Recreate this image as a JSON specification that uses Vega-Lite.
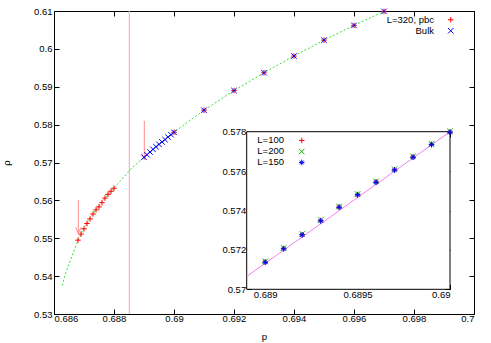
{
  "$schema": "https://vega.github.io/schema/vega-lite/v6.json",
  "width": 420,
  "height": 303,
  "autosize": {"type": "none"},
  "padding": {"left": 54, "top": 11, "right": 17, "bottom": 29},
  "config": {
    "view": {"stroke": "#000", "strokeWidth": 1},
    "axis": {
      "grid": false, "domain": false,
      "labelFont": "Liberation Sans", "labelFontSize": 9.5, "labelColor": "#000",
      "tickColor": "#000", "tickSize": -5, "tickWidth": 1,
      "titleFont": "Liberation Sans", "titleFontSize": 9.5, "titleFontWeight": "normal", "titleColor": "#000"
    },
    "legend": {
      "labelFont": "Liberation Sans", "labelFontSize": 9.5, "labelColor": "#000",
      "padding": 0, "rowPadding": 0, "symbolStrokeWidth": 1, "symbolSize": 30
    }
  },
  "datasets": {
    "curve": [
      {"p": 0.68628, "rho": 0.5375}, {"p": 0.68634, "rho": 0.5395}, {"p": 0.6864, "rho": 0.5411},
      {"p": 0.6865, "rho": 0.5433}, {"p": 0.6866, "rho": 0.5453}, {"p": 0.6867, "rho": 0.5474},
      {"p": 0.6868, "rho": 0.5494}, {"p": 0.6869, "rho": 0.5511}, {"p": 0.687, "rho": 0.5526},
      {"p": 0.6872, "rho": 0.5553}, {"p": 0.6874, "rho": 0.5576}, {"p": 0.6876, "rho": 0.5596},
      {"p": 0.6878, "rho": 0.5616}, {"p": 0.688, "rho": 0.5633}, {"p": 0.6883, "rho": 0.5659},
      {"p": 0.6886, "rho": 0.5686}, {"p": 0.689, "rho": 0.5714}, {"p": 0.6895, "rho": 0.5748},
      {"p": 0.69, "rho": 0.578}, {"p": 0.691, "rho": 0.5838}, {"p": 0.692, "rho": 0.589},
      {"p": 0.693, "rho": 0.5937}, {"p": 0.694, "rho": 0.5981}, {"p": 0.695, "rho": 0.6023},
      {"p": 0.696, "rho": 0.6062}, {"p": 0.697, "rho": 0.6099}, {"p": 0.69703, "rho": 0.61}
    ],
    "pts": [
      {"p": 0.6868, "rho": 0.5495, "series": "L=320, pbc"},
      {"p": 0.6869, "rho": 0.5511, "series": "L=320, pbc"},
      {"p": 0.687, "rho": 0.5525, "series": "L=320, pbc"},
      {"p": 0.6871, "rho": 0.5539, "series": "L=320, pbc"},
      {"p": 0.6872, "rho": 0.5551, "series": "L=320, pbc"},
      {"p": 0.6873, "rho": 0.5564, "series": "L=320, pbc"},
      {"p": 0.6874, "rho": 0.5575, "series": "L=320, pbc"},
      {"p": 0.6875, "rho": 0.5583, "series": "L=320, pbc"},
      {"p": 0.6876, "rho": 0.5594, "series": "L=320, pbc"},
      {"p": 0.6877, "rho": 0.5606, "series": "L=320, pbc"},
      {"p": 0.6878, "rho": 0.5616, "series": "L=320, pbc"},
      {"p": 0.6879, "rho": 0.5624, "series": "L=320, pbc"},
      {"p": 0.688, "rho": 0.5632, "series": "L=320, pbc"},
      {"p": 0.69, "rho": 0.578, "series": "L=320, pbc"},
      {"p": 0.691, "rho": 0.5838, "series": "L=320, pbc"},
      {"p": 0.692, "rho": 0.589, "series": "L=320, pbc"},
      {"p": 0.693, "rho": 0.5937, "series": "L=320, pbc"},
      {"p": 0.694, "rho": 0.5981, "series": "L=320, pbc"},
      {"p": 0.695, "rho": 0.6023, "series": "L=320, pbc"},
      {"p": 0.696, "rho": 0.6062, "series": "L=320, pbc"},
      {"p": 0.697, "rho": 0.6099, "series": "L=320, pbc"},
      {"p": 0.689, "rho": 0.57137, "series": "Bulk"},
      {"p": 0.6891, "rho": 0.57205, "series": "Bulk"},
      {"p": 0.6892, "rho": 0.57276, "series": "Bulk"},
      {"p": 0.6893, "rho": 0.57347, "series": "Bulk"},
      {"p": 0.6894, "rho": 0.57416, "series": "Bulk"},
      {"p": 0.6895, "rho": 0.57479, "series": "Bulk"},
      {"p": 0.6896, "rho": 0.57543, "series": "Bulk"},
      {"p": 0.6897, "rho": 0.57605, "series": "Bulk"},
      {"p": 0.6898, "rho": 0.5767, "series": "Bulk"},
      {"p": 0.6899, "rho": 0.57734, "series": "Bulk"},
      {"p": 0.69, "rho": 0.57797, "series": "Bulk"},
      {"p": 0.691, "rho": 0.5838, "series": "Bulk"},
      {"p": 0.692, "rho": 0.589, "series": "Bulk"},
      {"p": 0.693, "rho": 0.5937, "series": "Bulk"},
      {"p": 0.694, "rho": 0.5981, "series": "Bulk"},
      {"p": 0.695, "rho": 0.6023, "series": "Bulk"},
      {"p": 0.696, "rho": 0.6062, "series": "Bulk"},
      {"p": 0.697, "rho": 0.6099, "series": "Bulk"}
    ],
    "arrows": [
      {"p": 0.68681, "top": 0.5601, "tip": 0.5513},
      {"p": 0.68901, "top": 0.581, "tip": 0.5708}
    ],
    "pc": [{"p": 0.68851}],
    "frame": [{"x0": 0.6889, "x1": 0.69, "y0": 0.57, "y1": 0.578}],
    "fit": [{"p": 0.6889, "rho": 0.57065}, {"p": 0.69, "rho": 0.578}],
    "inset": [
      {"p": 0.689, "rho": 0.57139, "L": "L=100"}, {"p": 0.6891, "rho": 0.57207, "L": "L=100"},
      {"p": 0.6892, "rho": 0.57278, "L": "L=100"}, {"p": 0.6893, "rho": 0.57349, "L": "L=100"},
      {"p": 0.6894, "rho": 0.57418, "L": "L=100"}, {"p": 0.6895, "rho": 0.57481, "L": "L=100"},
      {"p": 0.6896, "rho": 0.57545, "L": "L=100"}, {"p": 0.6897, "rho": 0.57607, "L": "L=100"},
      {"p": 0.6898, "rho": 0.57672, "L": "L=100"}, {"p": 0.6899, "rho": 0.57736, "L": "L=100"},
      {"p": 0.69, "rho": 0.57799, "L": "L=100"},
      {"p": 0.689, "rho": 0.57142, "L": "L=200"}, {"p": 0.6891, "rho": 0.5721, "L": "L=200"},
      {"p": 0.6892, "rho": 0.57281, "L": "L=200"}, {"p": 0.6893, "rho": 0.57352, "L": "L=200"},
      {"p": 0.6894, "rho": 0.57421, "L": "L=200"}, {"p": 0.6895, "rho": 0.57484, "L": "L=200"},
      {"p": 0.6896, "rho": 0.57548, "L": "L=200"}, {"p": 0.6897, "rho": 0.5761, "L": "L=200"},
      {"p": 0.6898, "rho": 0.57675, "L": "L=200"}, {"p": 0.6899, "rho": 0.57739, "L": "L=200"},
      {"p": 0.69, "rho": 0.57802, "L": "L=200"},
      {"p": 0.689, "rho": 0.57137, "L": "L=150"}, {"p": 0.6891, "rho": 0.57205, "L": "L=150"},
      {"p": 0.6892, "rho": 0.57276, "L": "L=150"}, {"p": 0.6893, "rho": 0.57347, "L": "L=150"},
      {"p": 0.6894, "rho": 0.57416, "L": "L=150"}, {"p": 0.6895, "rho": 0.57479, "L": "L=150"},
      {"p": 0.6896, "rho": 0.57543, "L": "L=150"}, {"p": 0.6897, "rho": 0.57605, "L": "L=150"},
      {"p": 0.6898, "rho": 0.5767, "L": "L=150"}, {"p": 0.6899, "rho": 0.57734, "L": "L=150"},
      {"p": 0.69, "rho": 0.57797, "L": "L=150"}
    ]
  },
  "layer": [
    {
      "layer": [
        {
          "data": {"name": "pc"},
          "mark": {"type": "rule", "color": "#eeaaaa", "strokeWidth": 1},
          "encoding": {
            "x": {"field": "p", "type": "quantitative", "scale": {"domain": [0.686, 0.7], "zero": false, "nice": false}, "axis": null}
          }
        },
        {
          "data": {"name": "curve"},
          "mark": {"type": "line", "color": "#33e033", "strokeWidth": 1, "strokeDash": [2, 2], "clip": true},
          "encoding": {
            "x": {"field": "p", "type": "quantitative", "scale": {"domain": [0.686, 0.7], "zero": false, "nice": false},
              "axis": {"orient": "top", "labels": false, "title": null, "values": [0.686, 0.688, 0.69, 0.692, 0.694, 0.696, 0.698, 0.7]}},
            "y": {"field": "rho", "type": "quantitative", "scale": {"domain": [0.53, 0.61], "zero": false, "nice": false},
              "axis": {"orient": "right", "labels": false, "title": null, "values": [0.53, 0.54, 0.55, 0.56, 0.57, 0.58, 0.59, 0.6, 0.61]}}
          }
        },
        {
          "data": {"name": "arrows"},
          "mark": {"type": "rule", "color": "#ff8c8c", "strokeWidth": 1},
          "encoding": {
            "x": {"field": "p", "type": "quantitative", "axis": null},
            "y": {"field": "top", "type": "quantitative", "axis": null},
            "y2": {"field": "tip"}
          }
        },
        {
          "data": {"name": "arrows"},
          "mark": {"type": "point", "shape": "M-0.45,-1L0,0L0.45,-1", "size": 144, "filled": false, "color": "#ff8c8c", "strokeWidth": 1, "opacity": 1},
          "encoding": {
            "x": {"field": "p", "type": "quantitative", "axis": null},
            "y": {"field": "tip", "type": "quantitative", "axis": null}
          }
        },
        {
          "data": {"name": "pts"},
          "mark": {"type": "point", "filled": false, "size": 30, "strokeWidth": 1, "opacity": 1},
          "encoding": {
            "x": {"field": "p", "type": "quantitative",
              "axis": {"orient": "bottom", "title": "p", "format": "~g", "labelPadding": 4, "titlePadding": 9,
                "values": [0.686, 0.688, 0.69, 0.692, 0.694, 0.696, 0.698, 0.7]}},
            "y": {"field": "rho", "type": "quantitative",
              "axis": {"orient": "left", "title": "ρ", "format": "~g", "labelPadding": 7, "titlePadding": 22,
                "values": [0.53, 0.54, 0.55, 0.56, 0.57, 0.58, 0.59, 0.6, 0.61]}},
            "color": {"field": "series", "type": "nominal",
              "scale": {"domain": ["L=320, pbc", "Bulk"], "range": ["#ff0000", "#0000ff"]},
              "legend": {"orient": "none", "legendX": 392, "legendY": 4, "title": null, "labelAlign": "right", "labelOffset": -21.5, "symbolOffset": 0}},
            "shape": {"field": "series", "type": "nominal",
              "scale": {"domain": ["L=320, pbc", "Bulk"], "range": ["M-1,0L1,0M0,-1L0,1", "M-1,-1L1,1M-1,1L1,-1"]},
              "legend": {"orient": "none", "legendX": 392, "legendY": 4, "title": null, "labelAlign": "right", "labelOffset": -21.5, "symbolOffset": 0}}
          }
        }
      ]
    },
    {
      "layer": [
        {
          "data": {"name": "frame"},
          "mark": {"type": "rect", "fill": "#ffffff", "stroke": "#000", "strokeWidth": 1},
          "encoding": {
            "x": {"field": "x0", "type": "quantitative", "scale": {"domain": [0.6889, 0.69], "range": [192.7, 396], "zero": false, "nice": false}, "axis": null},
            "x2": {"field": "x1"},
            "y": {"field": "y0", "type": "quantitative", "scale": {"domain": [0.57, 0.578], "range": [278.3, 120.7], "zero": false, "nice": false}, "axis": null},
            "y2": {"field": "y1"}
          }
        },
        {
          "data": {"name": "fit"},
          "mark": {"type": "line", "color": "#f080f0", "strokeWidth": 1},
          "encoding": {
            "x": {"field": "p", "type": "quantitative",
              "axis": {"orient": "bottom", "offset": -24.7, "title": null, "format": "~g", "labelPadding": 5, "values": [0.689, 0.6895, 0.69]}},
            "y": {"field": "rho", "type": "quantitative",
              "axis": {"orient": "left", "offset": -192.7, "title": null, "format": "~g", "labelPadding": 6, "values": [0.57, 0.572, 0.574, 0.576, 0.578]}}
          }
        },
        {
          "data": {"name": "inset"},
          "mark": {"type": "point", "filled": false, "size": 30, "strokeWidth": 1, "opacity": 1},
          "encoding": {
            "x": {"field": "p", "type": "quantitative",
              "axis": {"orient": "top", "offset": -120.7, "title": null, "labels": false, "values": [0.689, 0.6895, 0.69]}},
            "y": {"field": "rho", "type": "quantitative",
              "axis": {"orient": "right", "offset": -24, "title": null, "labels": false, "values": [0.57, 0.572, 0.574, 0.576, 0.578]}},
            "color": {"field": "L", "type": "nominal",
              "scale": {"domain": ["L=100", "L=200", "L=150"], "range": ["#ff0000", "#00c000", "#0000ff"]},
              "legend": {"orient": "none", "legendX": 243, "legendY": 124.7, "title": null, "labelAlign": "right", "labelOffset": -22.5, "symbolOffset": 0}},
            "shape": {"field": "L", "type": "nominal",
              "scale": {"domain": ["L=100", "L=200", "L=150"], "range": ["M-1,0L1,0M0,-1L0,1", "M-1,-1L1,1M-1,1L1,-1", "M-1,0L1,0M0,-1L0,1M-0.7,-0.7L0.7,0.7M-0.7,0.7L0.7,-0.7"]},
              "legend": {"orient": "none", "legendX": 243, "legendY": 124.7, "title": null, "labelAlign": "right", "labelOffset": -22.5, "symbolOffset": 0}}
          }
        }
      ]
    }
  ],
  "resolve": {
    "scale": {"x": "independent", "y": "independent", "color": "independent", "shape": "independent"},
    "axis": {"x": "independent", "y": "independent"},
    "legend": {"color": "independent", "shape": "independent"}
  }
}
